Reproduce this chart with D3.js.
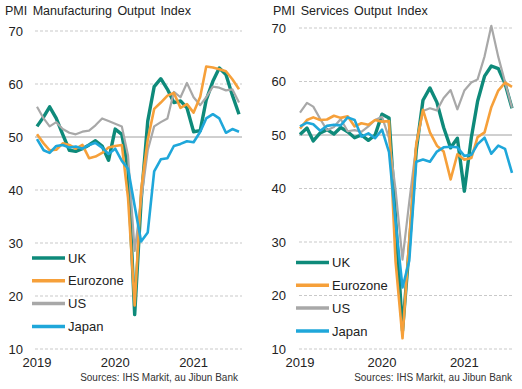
<!DOCTYPE html>
<html>
<head>
<meta charset="utf-8">
<script src="https://cdn.jsdelivr.net/npm/d3@7"></script>
<style>
  html, body { margin: 0; padding: 0; background: #fff; }
  svg { display: block; font-family: "Liberation Sans", Arial, sans-serif; }
</style>
</head>
<body>
<svg id="chart" width="522" height="389"></svg>
<script>
"use strict";
// ---- data ----
const MONTHS = d3.timeMonth.range(new Date(2019, 0, 1), new Date(2021, 8, 1)); // Jan 2019 .. Aug 2021
const YEARS = [2019, 2020, 2021];
const Y_TICKS = [10, 20, 30, 40, 50, 60, 70];
const SERIES = ["UK", "Eurozone", "US", "Japan"];
const COLORS = ["#0e8a7a", "#f6a03a", "#a8a8a8", "#1fa7da"];
const SOURCE = "Sources: IHS Markit, au Jibun Bank";

const MFG_UK = [52.0, 53.8, 55.7, 53.5, 50.5, 47.5, 47.3, 47.8, 48.5, 49.3, 48.3, 45.6, 51.5, 50.5, 44.0, 16.5,
                38.0, 53.0, 59.5, 61.0, 59.0, 56.5, 56.8, 55.5, 51.0, 51.2, 57.0, 60.5, 63.0, 61.8, 57.9, 54.3];
const MFG_EZ = [50.5, 48.8, 47.5, 47.6, 48.8, 48.5, 47.8, 48.5, 46.0, 46.3, 47.0, 48.0, 48.3, 48.5, 38.5, 18.2,
                40.0, 49.5, 55.3, 56.5, 57.8, 58.3, 55.5, 56.2, 54.6, 57.6, 63.3, 63.1, 62.8, 62.4, 60.9, 59.0];
const MFG_US = [55.7, 53.5, 52.0, 52.8, 51.5, 50.8, 50.5, 51.0, 51.2, 52.2, 53.5, 53.0, 52.5, 52.0, 46.5, 28.5,
                38.0, 47.5, 52.0, 52.8, 53.5, 58.5, 57.5, 60.2, 57.5, 56.0, 57.5, 59.5, 59.3, 58.8, 59.0, 56.5];
const MFG_JP = [49.6, 47.5, 47.0, 48.3, 48.5, 48.0, 48.2, 47.8, 48.5, 48.9, 48.0, 46.8, 47.8, 45.5, 44.0, 37.0,
                30.3, 32.0, 43.5, 45.8, 46.0, 48.3, 48.7, 49.2, 49.0, 51.0, 53.5, 54.3, 53.5, 50.8, 51.5, 51.0];

const SVC_UK = [50.1, 51.3, 48.9, 50.4, 51.0, 50.2, 51.4, 50.6, 49.5, 50.0, 49.0, 50.0, 53.9, 53.2, 34.5, 13.4,
                29.0, 47.1, 56.5, 58.8, 56.1, 51.4, 47.6, 49.4, 39.5, 49.5, 56.3, 61.0, 62.9, 62.4, 59.6, 55.0];
const SVC_EZ = [51.2, 52.8, 53.3, 52.8, 52.9, 53.6, 53.2, 53.5, 51.6, 52.2, 51.9, 52.8, 52.5, 52.6, 26.4, 12.0,
                30.5, 48.3, 54.7, 50.5, 48.0, 46.9, 41.7, 46.4, 45.4, 45.7, 49.6, 50.5, 55.2, 58.3, 59.8, 59.0];
const SVC_US = [54.2, 56.0, 55.3, 53.0, 50.9, 51.5, 53.0, 50.7, 50.9, 50.6, 51.6, 52.8, 53.4, 49.4, 39.8, 26.7,
                37.5, 48.0, 54.5, 55.0, 54.6, 56.9, 58.4, 54.8, 58.3, 59.8, 60.4, 64.7, 70.4, 64.6, 59.9, 55.1];
const SVC_JP = [51.6, 52.3, 52.0, 50.8, 51.7, 51.9, 51.8, 53.3, 52.8, 49.7, 50.3, 49.4, 51.0, 46.8, 33.8, 21.5,
                26.5, 45.0, 45.4, 45.0, 46.9, 47.7, 47.8, 47.7, 46.1, 46.3, 48.3, 49.5, 46.5, 48.0, 47.4, 42.9];

// ---- layout ----
const PANELS = [
  { title: "PMI Manufacturing Output Index", values: [MFG_UK, MFG_EZ, MFG_US, MFG_JP],
    x0: 37, x1: 239, gx0: 35, gx1: 242, yTop: 31, yBot: 349,
    labelX: 23, titleX: 5, legendX: 32, legendY: 258, sourceX: 238 },
  { title: "PMI Services Output Index", values: [SVC_UK, SVC_EZ, SVC_US, SVC_JP],
    x0: 300, x1: 512, gx0: 299, gx1: 512, yTop: 28, yBot: 349,
    labelX: 286, titleX: 273, legendX: 296, legendY: 262.5, sourceX: 512 }
];
const DRAW_ORDER = [0, 2, 1, 3];
const WIDTHS = [3.4, 2.6, 2.2, 2.6];

const svg = d3.select("#chart");

PANELS.forEach(p => {
  const x = d3.scaleTime().domain(d3.extent(MONTHS)).range([p.x0, p.x1]);
  const y = d3.scaleLinear().domain([10, 70]).range([p.yBot, p.yTop]);
  const g = svg.append("g");

  // grid lines, 50 solid
  g.selectAll("line.grid")
    .data(Y_TICKS)
    .join("line")
    .attr("x1", p.gx0).attr("x2", p.gx1)
    .attr("y1", d => y(d)).attr("y2", d => y(d))
    .attr("stroke", d => d === 50 ? "#a0a0a0" : "#c9c9c9")
    .attr("stroke-width", 1)
    .attr("stroke-dasharray", d => d === 50 ? null : "3,2");

  g.selectAll("text.ylab")
    .data(Y_TICKS)
    .join("text")
    .attr("x", p.labelX).attr("y", d => y(d))
    .attr("dy", "0.36em")
    .attr("text-anchor", "end")
    .attr("font-size", 13).attr("fill", "#222")
    .text(d => d);

  g.selectAll("text.xlab")
    .data(YEARS)
    .join("text")
    .attr("x", d => x(new Date(d, 0, 1))).attr("y", 367)
    .attr("text-anchor", "middle")
    .attr("font-size", 13).attr("fill", "#222")
    .text(d => d);

  g.append("text")
    .attr("x", p.titleX).attr("y", 15)
    .attr("font-size", 12.5).attr("word-spacing", 2).attr("fill", "#222")
    .text(p.title);

  g.append("text")
    .attr("x", p.sourceX).attr("y", 381)
    .attr("text-anchor", "end")
    .attr("font-size", 10).attr("fill", "#333")
    .text(SOURCE);

  const line = d3.line().x((d, i) => x(MONTHS[i])).y(d => y(d));
  DRAW_ORDER.forEach(k => {
    g.append("path")
      .attr("d", line(p.values[k]))
      .attr("fill", "none")
      .attr("stroke", COLORS[k])
      .attr("stroke-width", WIDTHS[k])
      .attr("stroke-linejoin", "round");
  });

  // legend
  const lg = g.selectAll("g.leg")
    .data(SERIES)
    .join("g")
    .attr("transform", (d, i) => `translate(${p.legendX},${p.legendY + i * 22.8})`);
  lg.append("line")
    .attr("x1", 0).attr("x2", 33)
    .attr("stroke", (d, i) => COLORS[i])
    .attr("stroke-width", 3.5);
  lg.append("text")
    .attr("x", 36).attr("dy", "0.36em")
    .attr("font-size", 13).attr("fill", "#222")
    .text(d => d);
});
</script>
</body>
</html>
